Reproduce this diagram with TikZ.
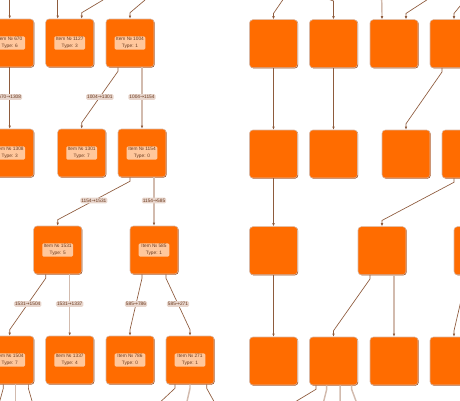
\documentclass[tikz,border=0pt]{standalone}
\usepackage{fontspec}
\setmainfont{Liberation Sans}
\newfontfamily\arrowfont{DejaVu Sans}
\usetikzlibrary{arrows.meta,calc,shadows}

\definecolor{orangefill}{HTML}{FF6C00}
\definecolor{nodeline}{HTML}{D9B8A6}
\definecolor{nodeshade}{HTML}{9A4A1A}
\definecolor{tagfill}{HTML}{FFC79C}
\definecolor{tagtext}{HTML}{6B3A1E}
\definecolor{chipfill}{HTML}{E8D6CD}
\definecolor{wirebrown}{HTML}{8E5B3D}
\definecolor{wirelight}{HTML}{D2BBAE}

\newcommand{\toarrow}{{\arrowfont →}}

\tikzstyle{item} = [rectangle, rounded corners=2.5pt, minimum width=36pt, minimum height=36pt, inner sep=0pt,
  fill=orangefill, draw=nodeline, line width=0.4pt,
  drop shadow={shadow xshift=0.5pt, shadow yshift=-0.5pt, fill=nodeshade, opacity=1}]
\tikzstyle{tag} = [rectangle, rounded corners=1pt, fill=tagfill, text=tagtext, minimum width=23pt, minimum height=10pt,
  inner sep=0.8pt, align=center, font=\fontsize{3.6}{5.2}\selectfont]
\tikzstyle{chip} = [rectangle, rounded corners=1pt, fill=chipfill, text=tagtext, inner sep=0.8pt, pos=0.5,
  font=\fontsize{3.6}{4}\selectfont]
\tikzstyle{wire} = [draw=wirebrown, line width=0.5pt, ->,
  to path={-- ++(0,4) -- ($(\tikztotarget)+(0,-6)$) \tikztonodes -- (\tikztotarget)}]
\tikzstyle{pale} = [wire, draw=wirelight, line width=1.1pt, -{Latex[length=2.4pt,width=2pt,color=wirebrown]}]

\begin{document}
\begin{tikzpicture}[x=0.75pt, y=-0.75pt,
>={Latex[length=2.4pt,width=2pt]},
font=\fontsize{3.6}{4.5}\selectfont,
]
\useasboundingbox (0,0) rectangle (460,400);
\clip (0,0) rectangle (460,400);

% left tree
\node[item, label={[tag]center:{Item № 670\\Type: 6}}] (n670) at (9.7,43) {};
\node[item, label={[tag]center:{Item № 1127\\Type: 3}}] (n1127) at (69.7,43) {};
\node[item, label={[tag]center:{Item № 1004\\Type: 1}}] (n1004) at (130,43) {};
\node[item, label={[tag]center:{Item № 1308\\Type: 3}}] (n1308) at (9.7,153) {};
\node[item, label={[tag]center:{Item № 1301\\Type: 7}}] (n1301) at (81.7,153) {};
\node[item, label={[tag]center:{Item № 1154\\Type: 0}}] (n1154) at (142,153) {};
\node[item, label={[tag]center:{Item № 1531\\Type: 5}}] (n1531) at (57.7,250) {};
\node[item, label={[tag]center:{Item № 585\\Type: 1}}] (n585) at (154,250) {};
\node[item, label={[tag]center:{Item № 1504\\Type: 7}}] (n1504) at (9.7,360) {};
\node[item, label={[tag]center:{Item № 1337\\Type: 4}}] (n1337) at (69.7,360) {};
\node[item, label={[tag]center:{Item № 786\\Type: 0}}] (n786) at (130,360) {};
\node[item, label={[tag]center:{Item № 271\\Type: 1}}] (n271) at (190,360) {};

\draw[wire] (n670.south) to node[chip] {670\toarrow1308} (n1308.north);
\draw[wire] ([xshift=-9pt]n1004.south) to node[chip] {1004\toarrow1301} (n1301.north);
\draw[pale] ([xshift=9pt]n1004.south) to node[chip] {1004\toarrow1154} (n1154.north);
\draw[wire] ([xshift=-9pt]n1154.south) to node[chip] {1154\toarrow1531} (n1531.north);
\draw[pale] ([xshift=9pt]n1154.south) to node[chip] {1154\toarrow585} (n585.north);
\draw[wire] ([xshift=-9pt]n1531.south) to node[chip] {1531\toarrow1504} (n1504.north);
\draw[pale] ([xshift=9pt]n1531.south) to node[chip] {1531\toarrow1337} (n1337.north);
\draw[wire] ([xshift=-9pt]n585.south) to node[chip] {585\toarrow786} (n786.north);
\draw[wire] ([xshift=9pt]n585.south) to node[chip] {585\toarrow271} (n271.north);

% right tree
\node[item] (g11) at (273.5,43.7) {};
\node[item] (g12) at (333.5,43.7) {};
\node[item] (g13) at (394,43.7) {};
\node[item] (g14) at (454,43.7) {};
\node[item] (g21) at (273.5,154) {};
\node[item] (g22) at (333.5,154) {};
\node[item] (g23) at (406,154) {};
\node[item] (g24) at (466,154) {};
\node[item] (g31) at (273.5,250.7) {};
\node[item] (g32) at (382,250.7) {};
\node[item] (g33) at (478,250.7) {};
\node[item] (g41) at (273.5,361) {};
\node[item] (g42) at (333.5,361) {};
\node[item] (g43) at (394,361) {};
\node[item] (g44) at (454,361) {};

\draw[wire] (g11.south) to (g21.north);
\draw[wire] (g12.south) to (g22.north);
\draw[wire] ([xshift=-9pt]g14.south) to (g23.north);
\draw[wire] (g21.south) to (g31.north);
\draw[wire] ([xshift=-9pt]g24.south) to (g32.north);
\draw[wire] (g31.south) to (g41.north);
\draw[wire] ([xshift=-9pt]g32.south) to (g42.north);
\draw[pale] ([xshift=9pt]g32.south) to (g43.north);
\draw[wire] ([xshift=-9pt]g33.south) to (g44.north);

% free ends above
\coordinate (top670) at (9.7,-4);
\coordinate (top1127a) at (57.7,-4);
\coordinate (top1127b) at (103,-4);
\coordinate (top1004) at (145,-4);
\coordinate (topg11) at (282.7,-4);
\coordinate (topg12) at (322,-3);
\coordinate (bendg12) at (333.5,1);
\coordinate (topg13a) at (381.7,-4);
\coordinate (topg13b) at (426.7,-4);
\coordinate (topg14) at (465,-4);

\draw[wire] (top670) to (n670.north);
\draw[wire] (top1127a) to ([xshift=-9pt]n1127.north);
\draw[wire] (top1127b) to ([xshift=9pt]n1127.north);
\draw[wire] (top1004) to (n1004.north);
\draw[wire] (topg11) to (g11.north);
\draw[wire] (topg12) -- (bendg12) -- (g12.north);
\draw[pale] (topg13a) to ([xshift=-9pt]g13.north);
\draw[wire] (topg13b) to ([xshift=9pt]g13.north);
\draw[wire] (topg14) to (g14.north);

% free ends below
\coordinate (low1504a) at (-5.5,426);
\coordinate (low1504b) at (15.7,426);
\coordinate (low1504c) at (37.4,426);
\coordinate (low271a) at (141,426);
\coordinate (low271b) at (182.8,426);
\coordinate (low271c) at (224.3,426);
\coordinate (lowg42a) at (265,426);
\coordinate (lowg42b) at (319,426);
\coordinate (lowg42c) at (340,426);
\coordinate (lowg42d) at (363,426);

\draw[wire] ([xshift=-4.8pt]n1504.south) to (low1504a);
\draw[pale] ([xshift=4.5pt]n1504.south) to (low1504b);
\draw[wire] ([xshift=14pt]n1504.south) to (low1504c);
\draw[wire] ([xshift=-11.25pt]n271.south) to (low271a);
\draw[pale] (n271.south) to (low271b);
\draw[wire] ([xshift=12.5pt]n271.south) to (low271c);
\draw[wire] ([xshift=-13.1pt]g42.south) to (lowg42a);
\draw[pale] ([xshift=-5.1pt]g42.south) to (lowg42b);
\draw[pale] ([xshift=4.9pt]g42.south) to (lowg42c);
\draw[pale] ([xshift=13.6pt]g42.south) to (lowg42d);
\end{tikzpicture}
\end{document}
